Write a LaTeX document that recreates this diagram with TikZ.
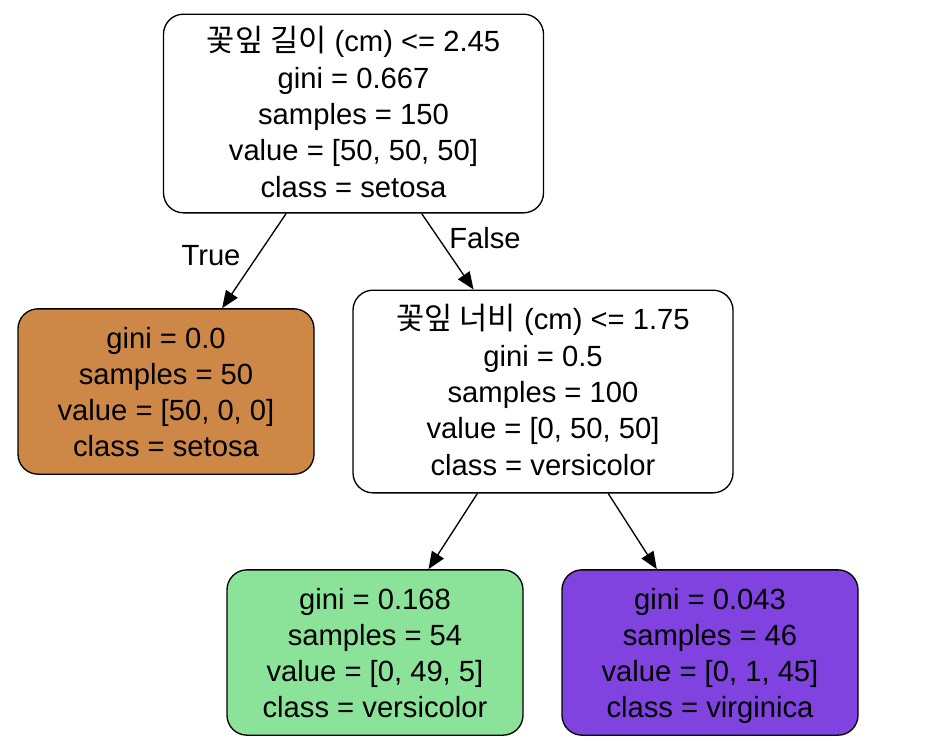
\documentclass[tikz,border=0pt]{standalone}
\usepackage{fontspec}
\setmainfont{Liberation Sans}
\newfontfamily\kofont[Scale=1.05]{Noto Sans CJK KR}
\usetikzlibrary{arrows.meta}
\definecolor{setosacol}{RGB}{205,136,72}
\definecolor{versicol}{RGB}{138,227,152}
\definecolor{virgcol}{RGB}{128,67,223}
\newcommand{\topgap}{\rule{0pt}{21pt}}
\tikzset{
  treenode/.style = {
    draw, rounded corners=15pt, line width=1pt, align=center,
    inner sep=0pt, font=\fontsize{21.9}{27.2}\selectfont
  },
  splitnode/.style = {treenode, fill=white, minimum width=285pt},
  leafnode/.style = {treenode, minimum width=222pt, minimum height=124pt},
  treeedge/.style = {-{Triangle[length=13pt,width=10.5pt]}, line width=1pt},
  edgelabel/.style = {font=\fontsize{21.9}{26}\selectfont}
}

\begin{document}
\begin{tikzpicture}[x=0.75pt,y=-0.75pt]
  \useasboundingbox (0,0) rectangle (946,754);
  % split nodes
  \node[splitnode, minimum height=149pt] (root) at (353.5,113.5)
    {\topgap{\kofont 꽃잎 길이} (cm) <= 2.45\\gini = 0.667\\samples = 150\\value = [50, 50, 50]\\class = setosa\vphantom{g}};
  \node[splitnode, minimum height=152pt] (split) at (543,391.5)
    {\topgap{\kofont 꽃잎 너비} (cm) <= 1.75\\gini = 0.5\\samples = 100\\value = [0, 50, 50]\\class = versicolor\vphantom{g}};
  % leaves
  \node[leafnode, fill=setosacol] (setosa) at (166,391.5)
    {\topgap gini = 0.0\\samples = 50\\value = [50, 0, 0]\\class = setosa\vphantom{g}};
  \node[leafnode, fill=versicol] (versicolor) at (375,652.5)
    {\topgap gini = 0.168\\samples = 54\\value = [0, 49, 5]\\class = versicolor\vphantom{g}};
  \node[leafnode, fill=virgcol] (virginica) at (710,652.5)
    {\topgap gini = 0.043\\samples = 46\\value = [0, 1, 45]\\class = virginica\vphantom{g}};
  % edges
  \draw[treeedge] (root) -- (setosa);
  \draw[treeedge] (root) -- (split);
  \draw[treeedge] (split) -- (versicolor);
  \draw[treeedge] (split) -- (virginica);
  \node[edgelabel] (truelabel) at (211,256) {True};
  \node[edgelabel] (falselabel) at (485,238) {False};
\end{tikzpicture}
\end{document}
